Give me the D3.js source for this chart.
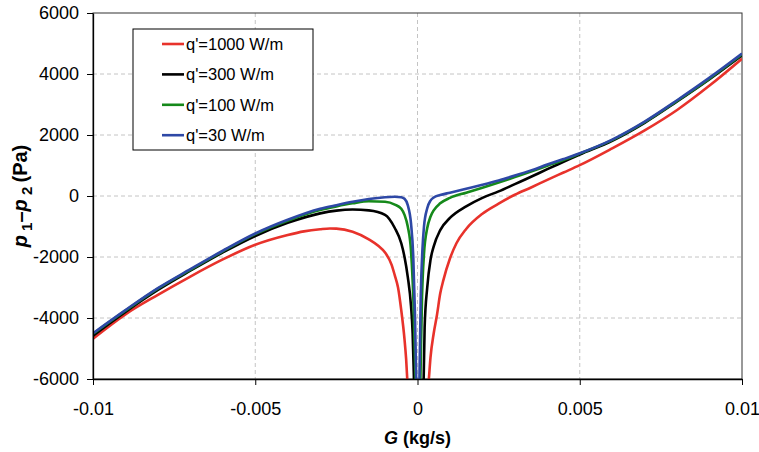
<!DOCTYPE html>
<html lang="en">
<head>
<meta charset="UTF-8">
<title>p1 - p2 versus G</title>
<script src="https://d3js.org/d3.v7.min.js"></script>
<style>
  body { margin: 0; background: #fff; }
  text { font-family: Arial, "Liberation Sans", sans-serif; fill: #000; }
  .grid line { stroke: #c4c4c4; stroke-dasharray: 4,3; }
  .axis path, .axis line { stroke: #000; }
</style>
</head>
<body>
<svg id="chart" width="759" height="452"></svg>
<script>
// legend names and colours
const seriesNames = ["q'=1000 W/m", "q'=300 W/m", "q'=100 W/m", "q'=30 W/m"];
const seriesColors = ["#e8322b", "#000000", "#15891a", "#2e48a6"];

// tick values
const xTicks = [-0.01, -0.005, 0, 0.005, 0.01];
const xTickLabels = ["-0.01", "-0.005", "0", "0.005", "0.01"];
const yTicks = [-6000, -4000, -2000, 0, 2000, 4000, 6000];

// q' = 1000 W/m
const G_1000 = [-0.01, -0.009, -0.008, -0.007, -0.006, -0.005, -0.004, -0.0035, -0.003, -0.0027, -0.0025, -0.002, -0.0015, -0.0012, -0.001, -0.0008, -0.0007, -0.0006, -0.0005, -0.0004, -0.00035, -0.0003,
                0.0003, 0.00035, 0.0004, 0.0005, 0.0006, 0.0007, 0.0008, 0.001, 0.0012, 0.0015, 0.002, 0.0025, 0.003, 0.0035, 0.004, 0.0045, 0.005, 0.006, 0.007, 0.008, 0.009, 0.01];
const dp_1000 = [-4680, -3880, -3240, -2640, -2080, -1600, -1280, -1160, -1090, -1065, -1070, -1170, -1420, -1640, -1850, -2250, -2600, -3000, -3750, -4700, -5350, -6300,
                 -6600, -6000, -5300, -4500, -3900, -3200, -2750, -2050, -1550, -1080, -580, -250, 40, 280, 530, 770, 1010, 1560, 2150, 2820, 3620, 4500];

// q' = 300 W/m
const G_300 = [-0.01, -0.009, -0.008, -0.007, -0.006, -0.005, -0.004, -0.003, -0.0025, -0.002, -0.0015, -0.001, -0.0007, -0.0005, -0.0004, -0.0003, -0.0002, -0.00015, -0.00011, -0.00009,
               0.00015, 0.00019, 0.00022, 0.0003, 0.0004, 0.0005, 0.0007, 0.001, 0.0015, 0.002, 0.0025, 0.003, 0.0035, 0.004, 0.0045, 0.005, 0.006, 0.007, 0.008, 0.009, 0.01];
const dp_300 = [-4580, -3800, -3080, -2450, -1850, -1310, -880, -570, -480, -445, -470, -620, -1050, -1550, -2000, -2650, -3600, -4500, -6000, -6800,
                -6800, -6000, -4300, -3000, -2100, -1650, -1120, -720, -340, -60, 150, 390, 630, 880, 1120, 1360, 1810, 2400, 3100, 3830, 4610];

// q' = 100 W/m
const G_100 = [-0.01, -0.009, -0.008, -0.007, -0.006, -0.005, -0.004, -0.003, -0.0025, -0.002, -0.0015, -0.001, -0.0007, -0.0005, -0.0004, -0.0003, -0.0002, -0.00013, -0.00006, -0.00004,
               0.00007, 0.00009, 0.00014, 0.0002, 0.0003, 0.0004, 0.0005, 0.0007, 0.001, 0.0015, 0.002, 0.0025, 0.003, 0.0035, 0.004, 0.0045, 0.005, 0.006, 0.007, 0.008, 0.009, 0.01];
const dp_100 = [-4520, -3760, -3040, -2420, -1815, -1250, -810, -460, -340, -240, -170, -190, -280, -420, -620, -1000, -1800, -3300, -6000, -7000,
                -7000, -6000, -3300, -1900, -1050, -680, -470, -240, -60, 110, 270, 440, 620, 800, 990, 1180, 1390, 1830, 2420, 3120, 3850, 4640];

// q' = 30 W/m
const G_30 = [-0.01, -0.009, -0.008, -0.007, -0.006, -0.005, -0.004, -0.003, -0.0025, -0.002, -0.0015, -0.001, -0.0007, -0.0005, -0.0004, -0.0003, -0.0002, -0.00013, -0.00008, -0.00004, -0.00002,
              0.00004, 0.00006, 0.0001, 0.00015, 0.0002, 0.0003, 0.0004, 0.0005, 0.0007, 0.001, 0.0015, 0.002, 0.0025, 0.003, 0.0035, 0.004, 0.0045, 0.005, 0.006, 0.007, 0.008, 0.009, 0.01];
const dp_30 = [-4500, -3740, -3020, -2400, -1795, -1230, -780, -420, -300, -190, -100, -40, -25, -40, -90, -300, -900, -2000, -3800, -6000, -7500,
               -7500, -6000, -3300, -1800, -1000, -400, -150, -50, 30, 110, 240, 370, 510, 670, 840, 1030, 1210, 1400, 1850, 2440, 3140, 3880, 4670];

const seriesG = [G_1000, G_300, G_100, G_30];
const seriesDp = [dp_1000, dp_300, dp_100, dp_30];

const margin = { top: 13, right: 17, bottom: 73, left: 93 };
const width = 759 - margin.left - margin.right;
const height = 452 - margin.top - margin.bottom;

const svg = d3.select("#chart");
const g = svg.append("g").attr("transform", `translate(${margin.left},${margin.top})`);

const x = d3.scaleLinear().domain([-0.01, 0.01]).range([0, width]);
const y = d3.scaleLinear().domain([-6000, 6000]).range([height, 0]);

svg.append("defs").append("clipPath").attr("id", "plot-clip")
    .append("rect").attr("width", width).attr("height", height);

// dashed grid
g.append("g").attr("class", "grid")
    .selectAll("line").data(yTicks.slice(1, -1)).enter().append("line")
    .attr("x1", 0).attr("x2", width)
    .attr("y1", d => y(d)).attr("y2", d => y(d));
g.append("g").attr("class", "grid")
    .selectAll("line").data(xTicks.slice(1, -1)).enter().append("line")
    .attr("y1", 0).attr("y2", height)
    .attr("x1", d => x(d)).attr("x2", d => x(d));

// frame
g.append("rect").attr("width", width).attr("height", height)
    .attr("fill", "none").attr("stroke", "#333").attr("stroke-width", 1);

// curves, one path per branch (G<0 and G>0)
const line = d3.line()
    .x(d => x(d[0]))
    .y(d => y(d[1]))
    .curve(d3.curveMonotoneX);

const curves = g.append("g").attr("clip-path", "url(#plot-clip)");
seriesG.forEach((gs, i) => {
    const pts = gs.map((v, j) => [v, seriesDp[i][j]]);
    [pts.filter(p => p[0] < 0), pts.filter(p => p[0] > 0)].forEach(branch => {
        curves.append("path")
            .datum(branch)
            .attr("fill", "none")
            .attr("stroke", seriesColors[i])
            .attr("stroke-width", 2.6)
            .attr("d", line);
    });
});

// axes
const xAxis = g.append("g").attr("class", "axis")
    .attr("transform", `translate(0,${height})`)
    .call(d3.axisBottom(x).tickValues(xTicks).tickFormat((d, i) => xTickLabels[i]).tickSize(6).tickSizeOuter(0));
xAxis.selectAll("text").attr("font-size", 18).attr("y", 20).attr("dy", "0.9em");

const yAxis = g.append("g").attr("class", "axis")
    .call(d3.axisLeft(y).tickValues(yTicks).tickFormat(d => String(d)).tickSize(6).tickSizeOuter(0));
yAxis.selectAll("text").attr("font-size", 18).attr("x", -14);
yAxis.select(".domain").attr("stroke-width", 1.3);
xAxis.select(".domain").attr("stroke-width", 1.3);

// axis titles
const xTitle = svg.append("text")
    .attr("x", margin.left + x(0))
    .attr("y", 444)
    .attr("text-anchor", "middle")
    .attr("font-size", 18)
    .attr("font-weight", "bold");
xTitle.append("tspan").attr("font-style", "italic").text("G");
xTitle.append("tspan").text("  (kg/s)");

const yTitle = svg.append("text")
    .attr("transform", `translate(27,${margin.top + y(0)}) rotate(-90)`)
    .attr("text-anchor", "middle")
    .attr("font-size", 20)
    .attr("font-weight", "bold");
yTitle.append("tspan").attr("font-style", "italic").text("p");
yTitle.append("tspan").attr("font-size", 15).attr("dy", 5).text(" 1");
yTitle.append("tspan").attr("dy", -5).text("\u2013");
yTitle.append("tspan").attr("font-style", "italic").text("p");
yTitle.append("tspan").attr("font-size", 15).attr("dy", 5).text(" 2 ");
yTitle.append("tspan").attr("dy", -5).text("(Pa)");

// legend
const legend = svg.append("g").attr("transform", "translate(133,29)");
legend.append("rect").attr("width", 180).attr("height", 121)
    .attr("fill", "#fff").attr("stroke", "#000").attr("stroke-width", 1);
const rows = legend.selectAll("g.row").data(seriesNames).enter().append("g")
    .attr("class", "row")
    .attr("transform", (d, i) => `translate(0,${15 + i * 30.4})`);
rows.append("line").attr("x1", 29).attr("x2", 51).attr("y1", 0).attr("y2", 0)
    .attr("stroke", (d, i) => seriesColors[i]).attr("stroke-width", 2.6);
rows.append("text").attr("x", 53).attr("y", 6).attr("font-size", 16.5).text(d => d);
</script>
</body>
</html>
